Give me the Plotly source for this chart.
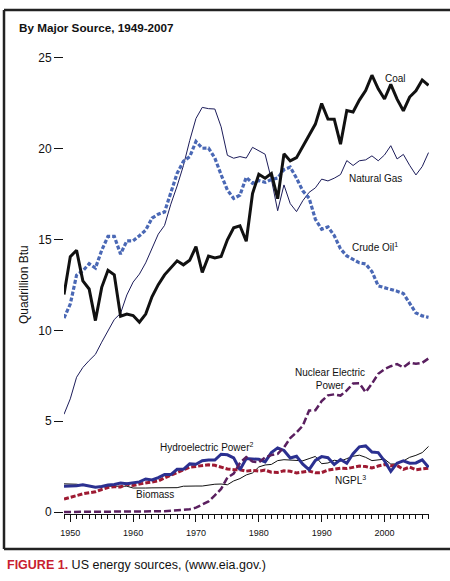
import plotly.graph_objects as go

years = list(range(1949, 2008))

coal = [11.97, 14.06, 14.41, 12.73, 12.28, 10.54, 12.37, 13.31, 13.06, 10.78,
        10.90, 10.82, 10.45, 10.90, 11.85, 12.52, 13.06, 13.47, 13.83, 13.61,
        13.86, 14.61, 13.19, 14.09, 13.99, 14.07, 14.99, 15.65, 15.76, 14.91,
        17.54, 18.60, 18.38, 18.64, 17.25, 19.72, 19.33, 19.51, 20.14, 20.74,
        21.36, 22.49, 21.64, 21.63, 20.25, 22.11, 22.03, 22.68, 23.21, 24.05,
        23.30, 22.74, 23.55, 22.73, 22.09, 22.85, 23.19, 23.79, 23.49]

natural_gas = [5.38, 6.23, 7.42, 7.96, 8.34, 8.68, 9.35, 10.00, 10.60, 10.94,
               11.95, 12.66, 13.10, 13.72, 14.51, 15.30, 15.78, 16.95, 17.95, 19.07,
               20.45, 21.67, 22.28, 22.21, 22.19, 21.21, 19.64, 19.48, 19.57, 19.49,
               20.08, 19.91, 19.70, 18.32, 16.59, 18.01, 16.98, 16.54, 17.14, 17.60,
               17.85, 18.33, 18.23, 18.38, 18.58, 19.35, 19.08, 19.34, 19.39, 19.61,
               19.34, 19.66, 20.17, 19.44, 19.69, 19.09, 18.56, 19.02, 19.79]

crude_oil = [10.68, 11.45, 13.04, 13.28, 13.67, 13.43, 14.41, 15.18, 15.18, 14.20,
             14.93, 14.93, 15.21, 15.52, 16.18, 16.40, 16.52, 17.56, 18.65, 19.31,
             19.56, 20.40, 20.03, 20.04, 19.49, 18.57, 17.73, 17.26, 17.45, 18.43,
             18.10, 18.25, 18.15, 18.31, 18.39, 18.85, 18.99, 18.38, 17.68, 17.28,
             16.12, 15.57, 15.70, 15.22, 14.49, 14.10, 13.89, 13.72, 13.66, 13.24,
             12.45, 12.36, 12.28, 12.16, 12.03, 11.50, 10.96, 10.80, 10.72]

nuclear = [0.0, 0.0, 0.0, 0.0, 0.0, 0.0, 0.0, 0.0, 0.0, 0.002,
           0.002, 0.006, 0.02, 0.026, 0.038, 0.04, 0.043, 0.064, 0.088, 0.142,
           0.154, 0.239, 0.413, 0.584, 0.910, 1.272, 1.900, 2.111, 2.702, 3.024,
           2.776, 2.739, 3.008, 3.131, 3.203, 3.553, 4.076, 4.380, 4.754, 5.587,
           5.602, 6.104, 6.422, 6.479, 6.410, 6.694, 7.075, 7.087, 6.597, 7.068,
           7.610, 7.862, 8.029, 8.145, 7.959, 8.222, 8.160, 8.215, 8.455]

hydro = [1.42, 1.42, 1.45, 1.50, 1.44, 1.36, 1.41, 1.49, 1.52, 1.59,
         1.55, 1.61, 1.66, 1.82, 1.77, 1.89, 2.06, 2.06, 2.35, 2.35,
         2.65, 2.63, 2.82, 2.86, 2.86, 3.18, 3.15, 2.98, 2.33, 2.94,
         2.93, 2.90, 2.76, 3.27, 3.53, 3.39, 2.97, 3.07, 2.63, 2.33,
         2.84, 3.05, 2.99, 2.62, 2.89, 2.68, 3.21, 3.59, 3.64, 3.30,
         3.27, 2.81, 2.24, 2.69, 2.82, 2.69, 2.70, 2.87, 2.46]

ngpl = [0.71, 0.82, 0.93, 1.00, 1.06, 1.11, 1.24, 1.35, 1.39, 1.38,
        1.54, 1.46, 1.54, 1.59, 1.67, 1.71, 1.88, 2.03, 2.18, 2.32,
        2.47, 2.51, 2.54, 2.60, 2.57, 2.47, 2.37, 2.33, 2.33, 2.25,
        2.29, 2.25, 2.31, 2.19, 2.18, 2.27, 2.24, 2.15, 2.22, 2.26,
        2.16, 2.17, 2.31, 2.36, 2.41, 2.39, 2.44, 2.53, 2.50, 2.42,
        2.53, 2.61, 2.55, 2.56, 2.35, 2.47, 2.33, 2.36, 2.41]

biomass = [1.55, 1.56, 1.53, 1.47, 1.42, 1.39, 1.42, 1.42, 1.39, 1.41,
           1.42, 1.32, 1.30, 1.32, 1.33, 1.34, 1.33, 1.37, 1.34, 1.42,
           1.44, 1.43, 1.43, 1.50, 1.53, 1.54, 1.50, 1.71, 1.84, 2.04,
           2.15, 2.48, 2.59, 2.62, 2.83, 2.88, 2.86, 2.84, 2.82, 2.94,
           3.06, 2.66, 2.70, 2.85, 2.80, 2.94, 3.07, 3.13, 3.01, 2.83,
           2.89, 2.91, 2.64, 2.65, 2.81, 3.01, 3.12, 3.27, 3.61]

y_ticks = [0, 5, 10, 15, 20, 25]
x_ticks = [1950, 1960, 1970, 1980, 1990, 2000]

W, H = 450, 581
ML, MR, MT, MB = 64, 21, 40, 67
PW, PH = W - ML - MR, H - MT - MB

def px(x):
    return (x - ML) / PW

def py(y):
    return (H - MB - y) / PH

FONT = "Liberation Sans, Arial, sans-serif"

fig = go.Figure()

def add(y, color, width, dash="solid"):
    fig.add_trace(go.Scatter(x=years, y=y, mode="lines",
                             line=dict(color=color, width=width, dash=dash),
                             showlegend=False, hoverinfo="skip"))

add(biomass, "#111111", 1)
add(ngpl, "#9e1a32", 3, "5px,2px")
add(hydro, "#2b3090", 3)
add(nuclear, "#5a1f5f", 2.5, "7px,3px")
add(natural_gas, "#1c1c5a", 1)
add(crude_oil, "#4a68b5", 3.2, "4px,2px")
add(coal, "#111111", 3)

annots = [
    dict(text="Coal", x=395, y=78),
    dict(text="Natural Gas", x=375, y=178),
    dict(text="Crude Oil<sup>1</sup>", x=375, y=247),
    dict(text="Nuclear Electric<br>Power", x=330, y=379),
    dict(text="Hydroelectric Power<sup>2</sup>", x=206, y=447),
    dict(text="Biomass", x=155, y=494),
    dict(text="NGPL<sup>3</sup>", x=350, y=480),
]
for a in annots:
    fig.add_annotation(text=a["text"], x=px(a["x"]), y=py(a["y"]), xref="paper", yref="paper",
                       showarrow=False, font=dict(size=10, color="#111111", family=FONT),
                       xanchor="center", yanchor="middle")

fig.add_annotation(text="<b>By Major Source, 1949-2007</b>", x=px(17), y=py(27),
                   xref="paper", yref="paper", showarrow=False, xanchor="left", yanchor="middle",
                   font=dict(size=11.7, color="#111111", family=FONT))
fig.add_annotation(text="Quadrillion Btu", x=px(24), y=py(285), textangle=-90,
                   xref="paper", yref="paper", showarrow=False, xanchor="center", yanchor="middle",
                   font=dict(size=12, color="#111111", family=FONT))
fig.add_annotation(text="<b><span style='color:#c8202f'>FIGURE 1.</span></b> US energy sources, (www.eia.gov.)",
                   x=px(5), y=py(565), xref="paper", yref="paper", showarrow=False,
                   xanchor="left", yanchor="middle", font=dict(size=12.5, color="#111111", family=FONT))

# frame
for (x0, y0, x1, y1) in [(4, 10, 450, 10), (4, 10, 4, 549), (4, 549, 450, 549)]:
    fig.add_shape(type="line", xref="paper", yref="paper",
                  x0=px(x0), y0=py(y0), x1=px(x1), y1=py(y1),
                  line=dict(color="#222222", width=2.5))

fig.update_layout(
    width=W, height=H,
    margin=dict(l=ML, r=MR, t=MT, b=MB, pad=0),
    paper_bgcolor="white", plot_bgcolor="white",
    font=dict(family=FONT, color="#111111"),
    xaxis=dict(range=[1949.0, 2007.08], tickvals=x_ticks, ticks="outside", ticklen=7,
               tickcolor="#111111", showline=True, linecolor="#111111", linewidth=1,
               showgrid=False, zeroline=False, ticklabelstandoff=3,
               tickfont=dict(size=9, family="Liberation Sans Narrow, " + FONT),
               minor=dict(dtick=1, tick0=1949, ticks="outside", ticklen=4, tickcolor="#111111", showgrid=False)),
    yaxis=dict(range=[-0.11, 25.99], tickvals=y_ticks, ticks="outside", ticklen=9,
               tickcolor="#111111", showline=False, showgrid=False, zeroline=False,
               tickfont=dict(size=12, family=FONT)),
)

fig.write_html("out.html", config={"displayModeBar": False},
               post_script="document.body.style.margin='0px';document.body.style.padding='0px';")
